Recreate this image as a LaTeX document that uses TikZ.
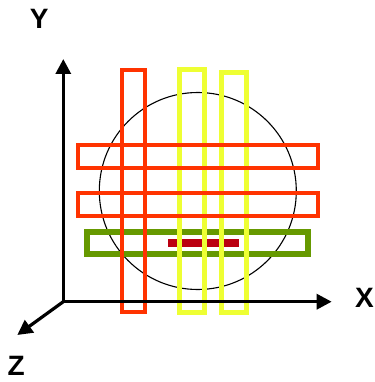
\documentclass[tikz,border=0pt]{standalone}
\usepackage{fontspec}
\setmainfont{Liberation Sans}
\usetikzlibrary{arrows.meta}
\definecolor{redo}{HTML}{FF3300}
\definecolor{yel}{HTML}{EEFF33}
\definecolor{grn}{HTML}{669900}
\definecolor{dred}{HTML}{BB0011}
\tikzset{
  box/.style={draw, rectangle, inner sep=0pt, outer sep=0pt, fill=none},
  redbox/.style={box, draw=redo, line width=4pt},
  yelbox/.style={box, draw=yel, line width=5pt},
  grnbox/.style={box, draw=grn, line width=6pt},
  axis/.style={line width=3.2pt, -{Triangle[length=15pt,width=15pt]}},
  lbl/.style={font=\bfseries\fontsize{28}{30}\selectfont, inner sep=0pt}
}
\begin{document}
\begin{tikzpicture}[x=1pt,y=-1pt]
\useasboundingbox (0,0) rectangle (374,382);
% sphere
\draw[line width=1.1pt] (197.8,191) circle[radius=98.5];
% green slab
\node[grnbox, minimum width=220.7pt, minimum height=22.6pt] (g) at (197.65,243) {};
% dark red bar
\node[fill=dred, inner sep=0pt, minimum width=70.4pt, minimum height=8pt] (d) at (203.5,243.3) {};
% yellow slabs
\node[yelbox, minimum width=24.4pt, minimum height=242.7pt] (y1) at (192,191.15) {};
\node[yelbox, minimum width=25pt, minimum height=240pt] (y2) at (234,192.5) {};
% red vertical slab
\node[redbox, minimum width=23pt, minimum height=241.7pt] (r1) at (133.5,191.15) {};
% red horizontal slabs
\node[redbox, minimum width=240pt, minimum height=22.7pt] (h1) at (198,156.65) {};
\node[redbox, minimum width=240pt, minimum height=23.6pt] (h2) at (198,204.5) {};
% axes
\coordinate (O) at (63.3,301.7);
\coordinate (Yt) at (63.3,59);
\coordinate (Xt) at (331.7,301.7);
\coordinate (Zt) at (17.3,335);
\draw[axis] ([yshift=-1.6pt]O) -- (Yt);
\draw[axis] ([xshift=-1.6pt]O) -- (Xt);
\draw[axis] (O) -- (Zt);
\node[lbl] (ly) at (39.2,19.3) {Y};
\node[lbl] (lx) at (364.5,298) {X};
\node[lbl] (lz) at (16.2,365.8) {Z};
\end{tikzpicture}
\end{document}
